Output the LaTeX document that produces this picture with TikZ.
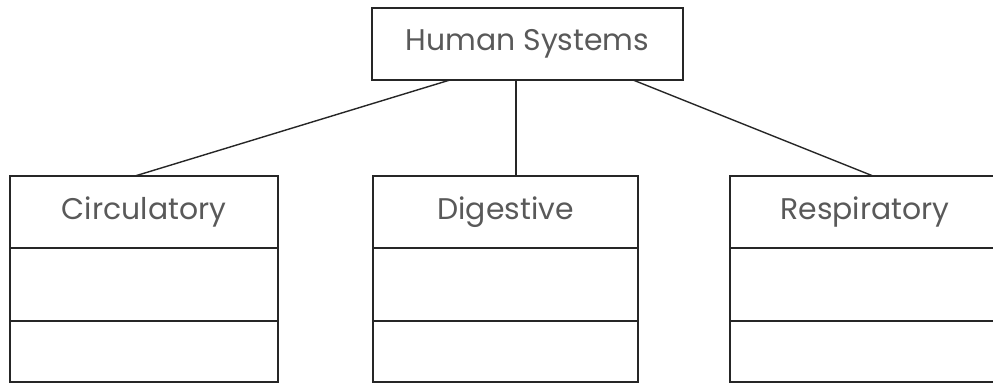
\documentclass[tikz,border=0pt]{standalone}
\usepackage{fontspec}
\setmainfont{Poppins}
\usetikzlibrary{positioning}

\begin{document}
\begin{tikzpicture}[scale=1.0, every node/.style={scale=1},
        head/.style={draw=black!85, line width=0.8pt, inner sep=0pt, outer sep=0pt,
            minimum height=1.44cm, text=black!65, font=\fontsize{17}{20}\selectfont},
        cell/.style={draw=black!85, line width=0.8pt, inner sep=0pt, outer sep=0pt}]
        \useasboundingbox (0,0) rectangle (19.86,7.72);
        \clip (0,0) rectangle (19.86,7.72);
        % Draw the top box
        \node[head, minimum width=6.22cm] (human) at (10.55,6.84) {Human Systems};
        % Draw the system boxes
        \foreach \nm/\x/\w/\txt in {circ/2.88/5.36/Circulatory, dig/10.11/5.30/Digestive, resp/17.30/5.40/Respiratory}
        {
            \node[head, minimum width=\w cm] (\nm) at (\x,3.48) {\txt};
            \node[cell, minimum width=\w cm, minimum height=1.46cm, below=0pt of \nm] (\nm-a) {};
            \node[cell, minimum width=\w cm, minimum height=1.22cm, below=0pt of \nm-a] (\nm-b) {};
        }
        % Draw the connectors
        \draw[line width=0.8pt, black!85] ([xshift=-1.55cm]human.south) -- ([xshift=-0.18cm]circ.north);
        \draw[line width=0.8pt, black!85] ([xshift=-0.23cm]human.south) -- ([xshift=-0.23cm]human.south |- dig.north);
        \draw[line width=0.8pt, black!85] ([xshift=2.11cm]human.south) -- ([xshift=0.16cm]resp.north);
    \end{tikzpicture}
\end{document}
